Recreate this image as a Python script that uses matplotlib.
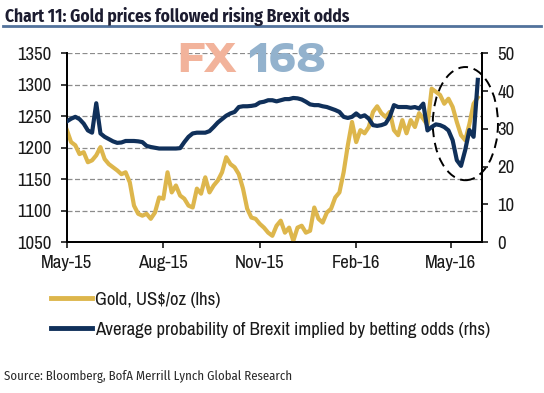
import pandas as pd
import matplotlib
matplotlib.use('Agg')
import matplotlib.pyplot as plt
import matplotlib.dates as mdates
from matplotlib.patches import Ellipse
from matplotlib.lines import Line2D

# 4-day sampling from start of May 2015
dates = pd.date_range('2015-05-01', periods=99, freq='4D')

# gold price, US$/oz (lhs)
gold = [1228, 1209, 1204, 1190, 1193, 1177, 1180, 1188, 1201, 1182, 1174, 1169, 1164, 1158, 1161, 1145,
        1108, 1095, 1092, 1095, 1087, 1097, 1121, 1119, 1161,
        1129, 1140, 1124, 1119, 1108, 1105, 1135, 1127, 1153, 1129, 1140, 1148, 1161, 1185, 1174, 1169,
        1158, 1135, 1103, 1089, 1087, 1079, 1073, 1065, 1060,
        1076, 1084, 1065, 1073, 1052, 1073, 1076, 1065, 1068, 1105, 1087, 1081, 1097, 1103, 1121, 1129,
        1161, 1204, 1241, 1209, 1228, 1223, 1233, 1257, 1266,
        1255, 1249, 1257, 1228, 1220, 1244, 1223, 1244, 1233, 1255, 1246, 1236, 1294, 1289, 1284, 1270,
        1278, 1265, 1241, 1220, 1212, 1238, 1270, 1280]

# average probability of Brexit from betting odds, % (rhs)
brexit = [32.0, 32.7, 33.2, 32.6, 31.4, 29.6, 29.0, 36.8, 28.8, 27.9, 27.3, 26.7, 26.3, 26.4, 26.8, 26.8,
          26.8, 26.7, 26.5, 25.5, 25.2, 25.0, 24.8, 24.8, 24.8,
          24.8, 24.8, 24.9, 26.5, 27.9, 28.8, 29.0, 29.0, 29.0, 29.4, 30.5, 31.7, 32.6, 33.5, 34.1, 34.5,
          35.8, 36.0, 36.0, 36.1, 36.3, 37.0, 37.2, 37.6, 37.6,
          37.3, 37.6, 37.9, 37.9, 38.2, 38.1, 37.8, 37.2, 36.5, 36.3, 36.3, 36.0, 35.8, 35.4, 35.0, 34.5,
          33.2, 32.9, 33.2, 34.1, 33.2, 33.6, 32.7, 31.0, 30.8,
          31.0, 31.4, 33.2, 36.3, 35.8, 35.8, 35.8, 35.6, 35.8, 35.4, 36.7, 29.6, 30.5, 31.2, 31.0, 30.5,
          29.6, 27.0, 21.7, 20.2, 24.4, 29.7, 27.9, 43.0]

gold_label = 'Gold, US$/oz (lhs)'
brexit_label = 'Average probability of Brexit implied by betting odds (rhs)'

plt.rcParams['font.family'] = ['Archivo Narrow', 'DejaVu Sans']

gold_col = '#DDB64C'
navy = '#10305A'

fig = plt.figure(figsize=(5.44, 3.93), dpi=100)
ax = fig.add_axes([0.123, 0.384, 0.763, 0.480])
ax2 = ax.twinx()

ax.plot(dates, gold, color=gold_col, lw=3, solid_joinstyle='round', zorder=3)
ax2.plot(dates, brexit, color=navy, lw=3, solid_joinstyle='round', zorder=4)

ax.set_ylim(1050, 1350)
ax.set_yticks(range(1050, 1351, 50))
ax2.set_ylim(0, 50)
ax2.set_yticks(range(0, 51, 10))
ax.set_xlim(pd.Timestamp('2015-05-01'), pd.Timestamp('2016-05-31'))
ax.set_xticks(pd.to_datetime(['2015-05-01', '2015-08-01', '2015-11-01', '2016-02-01', '2016-05-01']))
ax.xaxis.set_major_formatter(mdates.DateFormatter('%b-%y'))

for v in range(1100, 1351, 50):
    ax.axhline(v, color='#8c8c8c', lw=0.9, dashes=(4, 2), zorder=1)

for a in (ax, ax2):
    a.spines['top'].set_visible(False)
    for s in a.spines.values():
        s.set_color('black')
        s.set_linewidth(1.3)
    a.tick_params(direction='out', length=4, width=1.2, labelsize=13.5, colors='#1a1a1a')
ax.tick_params(axis='y', pad=7)
ax.tick_params(axis='x', pad=5)
ax2.tick_params(axis='y', pad=7)
ax2.patch.set_visible(False)

# dashed ellipse around the recent move
ell = Ellipse((0.960, 0.628), 0.157, 0.60, transform=ax.transAxes, fill=False,
              ls=(0, (5, 3)), lw=1.4, color='black', clip_on=False, zorder=5)
ax.add_patch(ell)

# watermark
fig.text(0.325, 0.846, 'FX', color='#F2B39B', fontsize=28, fontweight='heavy',
         family=['Encode Sans Expanded', 'DejaVu Sans'], va='center', ha='left')
fig.text(0.456, 0.846, '168', color='#93B2CD', fontsize=28, fontweight='heavy',
         family=['Encode Sans Expanded', 'DejaVu Sans'], va='center', ha='left')

# title and rule
fig.text(0.009, 0.958, 'Chart 11: Gold prices followed rising Brexit odds', fontsize=12.5,
         fontweight='bold', color='#1c1c30', va='center', ha='left',
         family=['Fira Sans Condensed', 'DejaVu Sans'])
fig.add_artist(Line2D([0.006, 0.994], [0.934, 0.934], color='#52729C', lw=2))

# legend
handles = [Line2D([], [], color=gold_col, lw=3.5), Line2D([], [], color=navy, lw=3.5)]
fig.legend(handles, [gold_label, brexit_label], loc='upper left', bbox_to_anchor=(0.094, 0.258),
           frameon=False, fontsize=13.5, handlelength=2.2, handletextpad=0.15, labelspacing=0.75,
           borderpad=0, borderaxespad=0, labelcolor='#1a1a1a')

fig.text(0.007, 0.041, 'Source: Bloomberg, BofA Merrill Lynch Global Research', fontsize=9.2,
         color='#2a2a2a', va='center', ha='left',
         family=['Fira Sans Condensed', 'DejaVu Sans'])

fig.savefig('out.png', dpi=100)
